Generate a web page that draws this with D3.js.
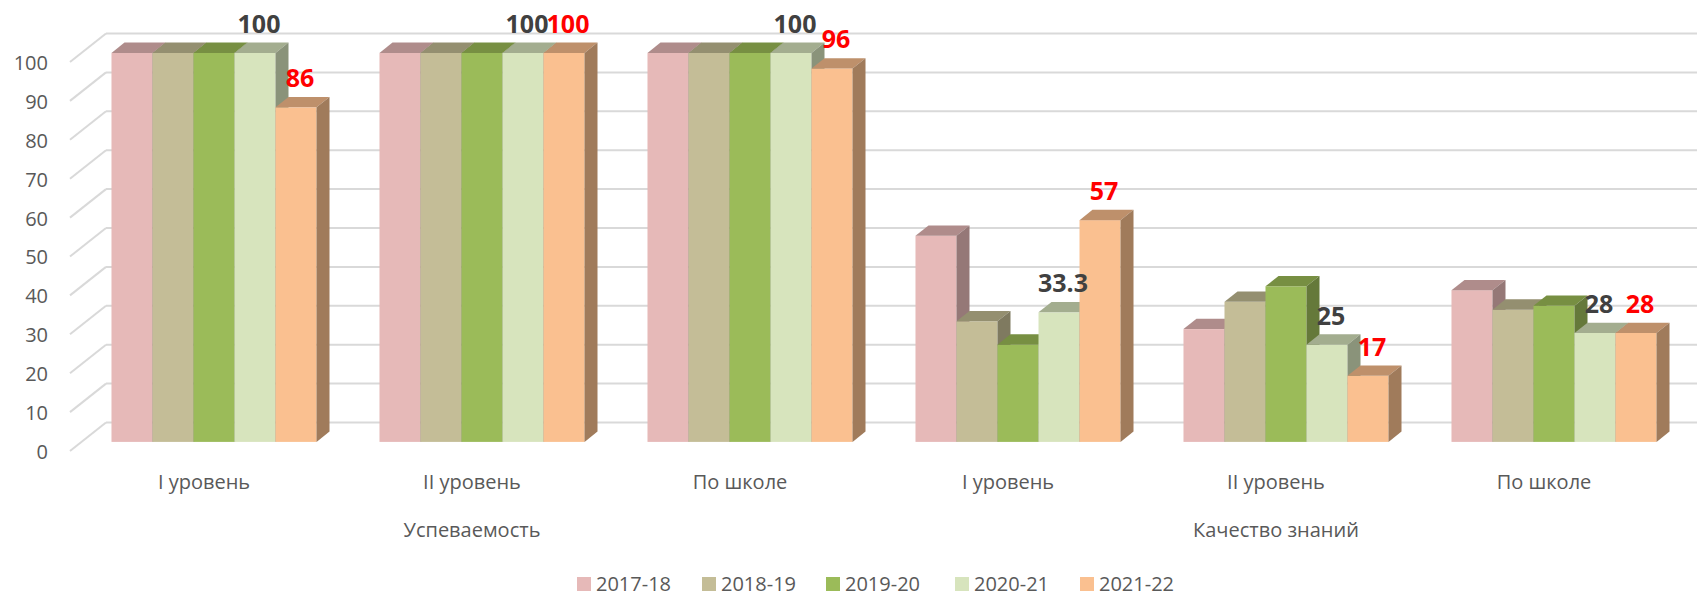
<!DOCTYPE html>
<html>
<head>
<meta charset="utf-8">
<script src="https://cdn.jsdelivr.net/npm/d3@7"></script>
<style>
  body { margin: 0; background: #fff; }
  svg { display: block; font-family: 'Open Sans', sans-serif; }
</style>
</head>
<body>
<svg width="1697" height="596"></svg>
<script>
// categories (two levels) and series
const categories = ['I уровень', 'II уровень', 'По школе', 'I уровень', 'II уровень', 'По школе']
const groups = ['Успеваемость', 'Качество знаний']
const groupOf = [0, 0, 0, 1, 1, 1]
const seriesNames = ['2017-18', '2018-19', '2019-20', '2020-21', '2021-22']

// values per school year
const v2017 = [100, 100, 100, 53, 29, 39]
const v2018 = [100, 100, 100, 31, 36, 34]
const v2019 = [100, 100, 100, 25, 40, 35]
const v2020 = [100, 100, 100, 33.3, 25, 28]
const v2021 = [86, 100, 96, 57, 17, 28]
const seriesValues = [v2017, v2018, v2019, v2020, v2021]

const yTicks = [0, 10, 20, 30, 40, 50, 60, 70, 80, 90, 100]

// front, top and side shades for each series
const frontColors = ['#E6B9B8', '#C4BD97', '#9BBB59', '#D7E4BD', '#FAC090']
const topColors = ['#AF8C8B', '#948F70', '#778F42', '#A3AD8F', '#BE906B']
const sideColors = ['#957877', '#7F7A60', '#65793A', '#8A937A', '#A07B5B']
// only the last two series carry data labels
const labelColors = [null, null, null, '#404040', '#FF0000']

const svg = d3.select('svg')

// pseudo 3d: full depth of the walls and depth of a bar
const wallDx = 36, wallDy = -28.5
const barDx = 13, barDy = -10.3
const barShiftY = -9.1

// y scale on the front plane, bars sit a bit further back
const yFront = d3.scaleLinear().domain([0, 100]).range([451, 62])
const yBar = v => yFront(v) + barShiftY

// x scale on the bar plane
const x0 = d3.scaleBand()
  .domain(d3.range(categories.length))
  .range([80, 1688])
  .paddingInner(0.235)
  .paddingOuter(0.1175)

const x1 = d3.scaleBand()
  .domain(d3.range(seriesNames.length))
  .range([0, x0.bandwidth()])

// gridlines: back wall + side wall diagonals
const grid = svg.append('g')
  .attr('stroke', '#D9D9D9')
  .attr('stroke-width', 2)
  .attr('fill', 'none')

grid.selectAll('line.back')
  .data(yTicks)
  .enter()
  .append('line')
  .attr('class', 'back')
  .attr('x1', 70 + wallDx)
  .attr('x2', 1697)
  .attr('y1', d => yFront(d) + wallDy)
  .attr('y2', d => yFront(d) + wallDy)

grid.selectAll('line.side')
  .data(yTicks)
  .enter()
  .append('line')
  .attr('class', 'side')
  .attr('x1', 70)
  .attr('x2', 70 + wallDx)
  .attr('y1', d => yFront(d))
  .attr('y2', d => yFront(d) + wallDy)

// y axis labels
const yAxis = d3.axisLeft(yFront)
  .tickValues(yTicks)
  .tickSize(0)
  .tickPadding(10)

const yAxisG = svg.append('g')
  .attr('transform', 'translate(58, 1)')
  .call(yAxis)
yAxisG.select('.domain').remove()
yAxisG.selectAll('text')
  .attr('font-family', "'Open Sans', sans-serif")
  .attr('font-size', 20)
  .attr('fill', '#595959')

// flatten bars, drawn left to right so each bar hides the side of its neighbour
const bars = []
categories.forEach((c, ci) => {
  seriesNames.forEach((s, si) => {
    bars.push({ ci, si, value: seriesValues[si][ci] })
  })
})

const barG = svg.append('g')

bars.forEach(d => {
  const xl = x0(d.ci) + x1(d.si)
  const xr = xl + x1.bandwidth()
  const yt = yBar(d.value)
  const yb = yBar(0)
  const g = barG.append('g')

  // front face
  g.append('rect')
    .attr('x', xl)
    .attr('y', yt)
    .attr('width', xr - xl)
    .attr('height', yb - yt)
    .attr('fill', frontColors[d.si])
  // top face
  g.append('path')
    .attr('d', `M${xl},${yt}L${xl + barDx},${yt + barDy}L${xr + barDx},${yt + barDy}L${xr},${yt}Z`)
    .attr('fill', topColors[d.si])
  // side face
  g.append('path')
    .attr('d', `M${xr},${yt}L${xr + barDx},${yt + barDy}L${xr + barDx},${yb + barDy}L${xr},${yb}Z`)
    .attr('fill', sideColors[d.si])
})

// data labels
svg.append('g')
  .selectAll('text')
  .data(bars.filter(d => labelColors[d.si]))
  .enter()
  .append('text')
  .attr('x', d => x0(d.ci) + x1(d.si) + x1.bandwidth() / 2 + 4)
  .attr('y', d => yBar(d.value) - 20)
  .attr('text-anchor', 'middle')
  .attr('font-size', 25)
  .attr('font-weight', 'bold')
  .attr('fill', d => labelColors[d.si])
  .text(d => d.value)

// category axis, on the front plane
const xFront = x0.copy().range([80 - 10, 1688 - 10])
const xAxis = d3.axisBottom(xFront)
  .tickSize(0)
  .tickPadding(0)
  .tickFormat(i => categories[i])

const xAxisG = svg.append('g')
  .attr('transform', 'translate(0, 475)')
  .call(xAxis)
xAxisG.select('.domain').remove()
xAxisG.selectAll('text')
  .attr('font-family', "'Open Sans', sans-serif")
  .attr('font-size', 20)
  .attr('fill', '#595959')

// group labels, centred under the middle category of each group
svg.append('g')
  .selectAll('text')
  .data(groups)
  .enter()
  .append('text')
  .attr('x', (g, gi) => {
    const idx = d3.range(categories.length).filter(i => groupOf[i] === gi)
    return d3.mean(idx, i => xFront(i) + xFront.bandwidth() / 2)
  })
  .attr('y', 537)
  .attr('text-anchor', 'middle')
  .attr('font-size', 20)
  .attr('fill', '#595959')
  .text(g => g)

// legend
const legendX = [577, 702, 826, 955, 1080]
const legend = svg.append('g')
  .selectAll('g')
  .data(seriesNames)
  .enter()
  .append('g')
  .attr('transform', (d, i) => `translate(${legendX[i]}, 577)`)

legend.append('rect')
  .attr('width', 14)
  .attr('height', 14)
  .attr('fill', (d, i) => frontColors[i])

legend.append('text')
  .attr('x', 19)
  .attr('y', 7)
  .attr('dy', '0.35em')
  .attr('font-size', 20)
  .attr('fill', '#595959')
  .text(d => d)
</script>
</body>
</html>
